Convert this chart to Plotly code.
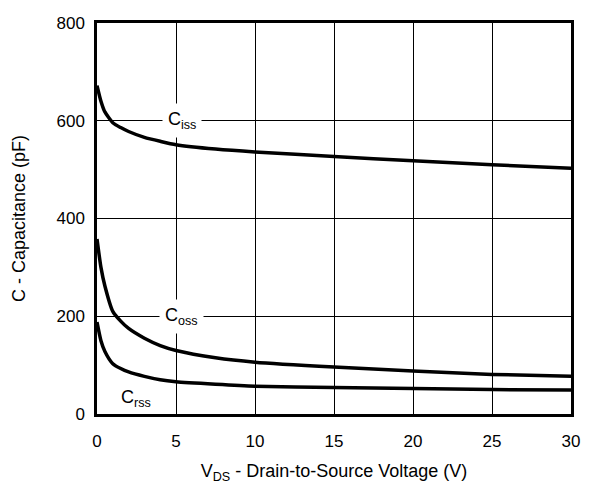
import plotly.graph_objects as go

vds = [0, 0.25, 0.5, 1, 1.5, 2, 3, 4, 5, 7.5, 10, 15, 20, 25, 30]
ciss = [672, 640, 618, 596, 586, 578, 566, 558, 551, 542, 536, 527, 518, 510, 503]
coss = [358, 300, 262, 210, 190, 175, 155, 140, 130, 115, 106, 96, 88, 81, 77]
crss = [188, 150, 128, 103, 93, 86, 77, 70, 66, 61, 57, 54, 52, 50, 49]

curve_labels = ["C<sub>iss</sub>", "C<sub>oss</sub>", "C<sub>rss</sub>"]
label_x = [5.35, 5.35, 2.45]
label_y = [600, 200, 32]

fig = go.Figure()
for ys in (ciss, coss, crss):
    fig.add_trace(go.Scatter(x=vds, y=ys, mode="lines",
                             line=dict(color="black", width=3.5, shape="spline", smoothing=0.6),
                             showlegend=False))

for t, lx, ly in zip(curve_labels, label_x, label_y):
    fig.add_annotation(x=lx, y=ly, text=t, showarrow=False,
                       bgcolor="white" if ly > 100 else "rgba(0,0,0,0)",
                       font=dict(family="Liberation Sans, Arial", size=18, color="black"), borderpad=5)

fig.update_xaxes(range=[0, 30], tickvals=[0, 5, 10, 15, 20, 25, 30], showgrid=True, gridcolor="black", gridwidth=1,
                 showline=True, linecolor="black", linewidth=2.5, mirror=True, zeroline=False, ticks="",
                 ticklabelstandoff=10,
                 title=dict(text="V<sub>DS</sub> - Drain-to-Source Voltage (V)", standoff=15,
                            font=dict(size=18)),
                 tickfont=dict(size=17))
fig.update_yaxes(range=[0, 800], tickvals=[0, 200, 400, 600, 800], showgrid=True, gridcolor="black", gridwidth=1,
                 showline=True, linecolor="black", linewidth=2.5, mirror=True, zeroline=False, ticks="",
                 ticklabelstandoff=6, ticklabeloverflow="allow",
                 title=dict(text="C - Capacitance (pF)", standoff=27, font=dict(size=18)),
                 tickfont=dict(size=17))
fig.update_layout(width=584, height=481, margin=dict(l=89, r=21, t=6, b=75),
                  plot_bgcolor="white", paper_bgcolor="white",
                  font=dict(family="Liberation Sans, Arial", size=15, color="black"))
fig.write_html("out.html")
